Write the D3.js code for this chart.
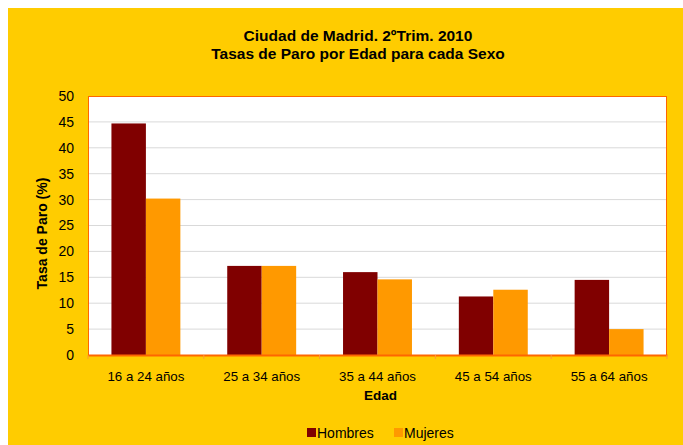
<!DOCTYPE html>
<html>
<head>
<meta charset="utf-8">
<script src="https://cdn.jsdelivr.net/npm/d3@7"></script>
<style>
  body { margin: 0; background: #fff; }
  text { font-family: Arial, "Liberation Sans", sans-serif; fill: #000; }
</style>
</head>
<body>
<script>
// data
var edades = ['16 a 24 años', '25 a 34 años', '35 a 44 años', '45 a 54 años', '55 a 64 años']
var sexos = ['Hombres', 'Mujeres']
var hombres = [44.7, 17.2, 16.0, 11.3, 14.5]
var mujeres = [30.2, 17.2, 14.6, 12.6, 5.0]
var yTicks = [0, 5, 10, 15, 20, 25, 30, 35, 40, 45, 50]

var colors = ['#800000', '#FF9900']

var width = 683, height = 445
var plot = { left: 88, top: 96, right: 667, bottom: 355 }

var svg = d3.select('body').append('svg')
    .attr('width', width)
    .attr('height', height)

// yellow chart area
svg.append('rect')
    .attr('x', 8).attr('y', 8)
    .attr('width', width - 8).attr('height', height - 8)
    .attr('fill', '#FFCC00')

svg.append('rect')
    .attr('x', plot.left).attr('y', plot.top)
    .attr('width', plot.right - plot.left).attr('height', plot.bottom - plot.top)
    .attr('fill', '#fff')

var x0 = d3.scaleBand().domain(edades).range([plot.left, plot.right]).paddingInner(0).paddingOuter(0)
var x1 = d3.scaleBand().domain(sexos).range([0, x0.bandwidth()]).paddingOuter(0.68).paddingInner(0)
var y = d3.scaleLinear().domain([0, 50]).range([plot.bottom, plot.top])

// gridlines
svg.append('g')
    .selectAll('line')
    .data(yTicks.slice(1, -1))
    .enter().append('line')
        .attr('x1', plot.left).attr('x2', plot.right)
        .attr('y1', d => y(d)).attr('y2', d => y(d))
        .attr('stroke', '#D9D9D9')
        .attr('stroke-width', 1)

// bars
var series = [hombres, mujeres]
edades.forEach(function(edad, i) {
    sexos.forEach(function(sexo, j) {
        svg.append('rect')
            .attr('x', x0(edad) + x1(sexo))
            .attr('y', y(series[j][i]))
            .attr('width', x1.bandwidth())
            .attr('height', y(0) - y(series[j][i]))
            .attr('fill', colors[j])
    })
})

// plot border
svg.append('rect')
    .attr('x', plot.left + 0.5).attr('y', plot.top + 0.5)
    .attr('width', plot.right - plot.left - 1).attr('height', plot.bottom - plot.top)
    .attr('fill', 'none')
    .attr('stroke', '#FF6600')
    .attr('stroke-width', 1)

// y axis
var yAxis = d3.axisLeft(y).tickValues(yTicks).tickSize(0).tickPadding(14)
var gy = svg.append('g')
    .attr('transform', 'translate(' + plot.left + ',0)')
    .call(yAxis)
gy.select('.domain').remove()
gy.selectAll('text')
    .style('font-size', '14px')
    .style('font-family', 'Arial, "Liberation Sans", sans-serif')
    .attr('fill', '#000')

// x axis
var xAxis = d3.axisBottom(x0).tickSize(0).tickPadding(17)
var gx = svg.append('g')
    .attr('transform', 'translate(0,' + plot.bottom + ')')
    .call(xAxis)
gx.select('.domain')
    .attr('stroke', '#FF6600')
    .attr('stroke-width', 2)
gx.selectAll('text')
    .style('font-size', '13.3px')
    .style('font-family', 'Arial, "Liberation Sans", sans-serif')
    .attr('fill', '#000')

// category separators below the axis
svg.append('g')
    .selectAll('line')
    .data(edades.concat(['end']))
    .enter().append('line')
        .attr('x1', (d, i) => plot.left + i * x0.bandwidth())
        .attr('x2', (d, i) => plot.left + i * x0.bandwidth())
        .attr('y1', plot.bottom)
        .attr('y2', plot.bottom + 4)
        .attr('stroke', '#FF9933')
        .attr('stroke-width', 1)

// titles
svg.append('text')
    .attr('x', 358).attr('y', 41)
    .attr('text-anchor', 'middle')
    .style('font-size', '15.5px').style('font-weight', 'bold')
    .text('Ciudad de Madrid. 2ºTrim. 2010')
svg.append('text')
    .attr('x', 358).attr('y', 59)
    .attr('text-anchor', 'middle')
    .style('font-size', '15.5px').style('font-weight', 'bold')
    .text('Tasas de Paro por Edad para cada Sexo')

svg.append('text')
    .attr('x', (plot.left + plot.right) / 2 + 3).attr('y', 400)
    .attr('text-anchor', 'middle')
    .style('font-size', '13.5px').style('font-weight', 'bold')
    .text('Edad')

svg.append('text')
    .attr('transform', 'translate(47,' + ((plot.top + plot.bottom) / 2 + 8) + ') rotate(-90)')
    .attr('text-anchor', 'middle')
    .style('font-size', '14px').style('font-weight', 'bold')
    .text('Tasa de Paro (%)')

// legend
var legendX = [307, 394]
sexos.forEach(function(sexo, i) {
    svg.append('rect')
        .attr('x', legendX[i]).attr('y', 428)
        .attr('width', 9).attr('height', 9)
        .attr('fill', colors[i])
    svg.append('text')
        .attr('x', legendX[i] + 10).attr('y', 438)
        .style('font-size', '14px')
        .text(sexo)
})
</script>
</body>
</html>
